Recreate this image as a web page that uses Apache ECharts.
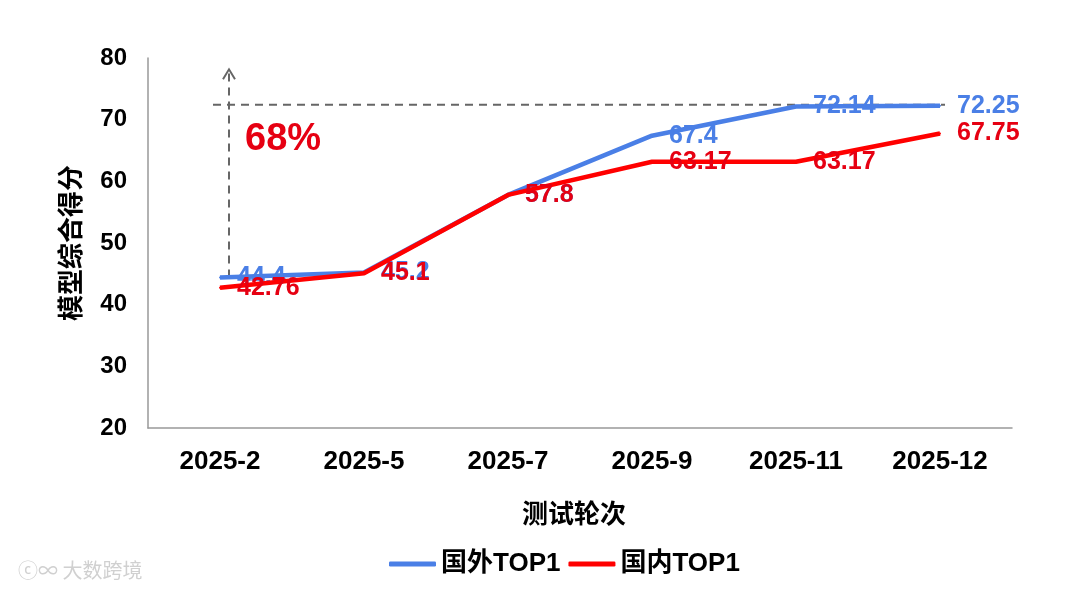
<!DOCTYPE html>
<html><head><meta charset="utf-8">
<script src="https://cdn.jsdelivr.net/npm/echarts@6/dist/echarts.min.js"></script>
<style>html,body{margin:0;padding:0;background:#fff}#c{width:1080px;height:592px}</style>
</head><body><div id="c"></div>
<script>
const categories = ['2025-2','2025-5','2025-7','2025-9','2025-11','2025-12'];
const foreignTop1 = [44.4, 45.2, 57.8, 67.4, 72.14, 72.25];
const domesticTop1 = [42.76, 45.1, 57.8, 63.17, 63.17, 67.75];
const seriesNames = ['国外TOP1','国内TOP1'];
const gapLabel = '68%';
const gapTop = 72.25;
const yTicks = {min:20, max:80, interval:10};

const FONT = '"Liberation Sans", Arial, "Noto Sans CJK SC", sans-serif';
const BLUE = '#4A7FE6', RED = '#FF0000', REDLBL = '#E60012';
const chart = echarts.init(document.getElementById('c'));
function lbl(color){return {show:true, position:'right', distance:16, color:color, fontSize:25, fontWeight:'bold', fontFamily:FONT};}
chart.setOption({
  animation:false,
  grid:{left:148, right:68, top:58, bottom:164},
  xAxis:{type:'category', data:categories, boundaryGap:true,
    axisLine:{lineStyle:{color:'#999', width:1.5}}, axisTick:{show:false},
    axisLabel:{color:'#000', fontSize:26, fontWeight:'bold', fontFamily:FONT, margin:21},
    name:'测试轮次', nameLocation:'middle', nameGap:75,
    nameTextStyle:{color:'#000', fontSize:26, fontWeight:'bold', fontFamily:FONT, padding:[0,12,0,0]}},
  yAxis:{type:'value', min:yTicks.min, max:yTicks.max, interval:yTicks.interval,
    axisLine:{show:true, lineStyle:{color:'#999', width:1.5}}, axisTick:{show:false}, splitLine:{show:false},
    axisLabel:{color:'#000', fontSize:24, fontWeight:'bold', fontFamily:FONT, margin:21},
    name:'模型综合得分', nameLocation:'middle', nameGap:62, nameRotate:90,
    nameTextStyle:{color:'#000', fontSize:26, fontWeight:'bold', fontFamily:FONT}},
  legend:{left:384, top:546, itemWidth:47, itemHeight:5, itemGap:8,
    textStyle:{color:'#000', fontSize:26, fontWeight:'bold', fontFamily:FONT},
    data:[{name:seriesNames[0], icon:'roundRect'},{name:seriesNames[1], icon:'roundRect'}]},
  series:[
    {name:seriesNames[0], type:'line', data:foreignTop1, symbol:'circle', symbolSize:2, color:BLUE,
     lineStyle:{width:4.5, color:BLUE}, itemStyle:{color:BLUE}, label:lbl(BLUE), z:2},
    {name:seriesNames[1], type:'line', data:domesticTop1, symbol:'circle', symbolSize:2, color:RED,
     lineStyle:{width:4.5, color:RED}, itemStyle:{color:RED}, label:lbl(REDLBL), z:3}
  ]
});
// annotation: horizontal reference, vertical arrow and gap label
const p0 = chart.convertToPixel({xAxisIndex:0,yAxisIndex:0},[categories[0], foreignTop1[0]]);
const pEnd = chart.convertToPixel({xAxisIndex:0,yAxisIndex:0},[categories[categories.length-1], gapTop]);
const pRef = chart.convertToPixel({xAxisIndex:0,yAxisIndex:0},[categories[0], gapTop]);
const pTop = chart.convertToPixel({xAxisIndex:0,yAxisIndex:0},[categories[0], 78]);
const pTxt = chart.convertToPixel({xAxisIndex:0,yAxisIndex:0},[categories[0], 66.8]);
const ax = p0[0] + 9;
chart.setOption({graphic:[
  {type:'line', shape:{x1:pRef[0]-7, y1:pRef[1]-1, x2:pEnd[0]+5, y2:pRef[1]-1}, style:{stroke:'#666', lineWidth:2, lineDash:[8,6]}, z:1},
  {type:'line', shape:{x1:ax, y1:p0[1], x2:ax, y2:pTop[1]}, style:{stroke:'#666', lineWidth:2, lineDash:[8,6]}, z:1},
  {type:'polyline', shape:{points:[[ax-6,pTop[1]+9],[ax,pTop[1]-1],[ax+6,pTop[1]+9]]}, style:{stroke:'#666', lineWidth:2, fill:null}, z:1},
  {type:'text', x:ax+16, y:pTxt[1], style:{text:gapLabel, fill:REDLBL, font:'bold 38px '+FONT, verticalAlign:'middle'}, z:5},
  {type:'text', left:18, top:560, style:{text:'ⓒ∞ 大数跨境', fill:'#d0d0d0', font:'20px "Noto Sans CJK SC", sans-serif'}, z:0}
]});
</script></body></html>
